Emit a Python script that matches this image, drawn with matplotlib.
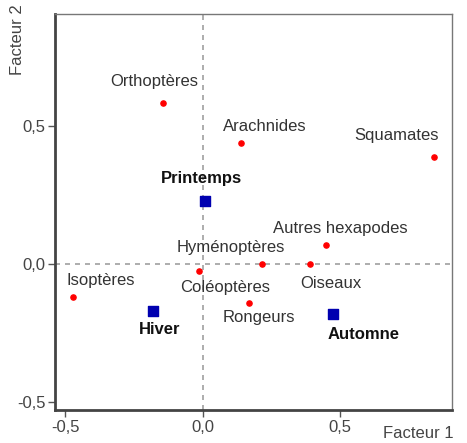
import matplotlib.pyplot as plt

# Variables (taxons) et saisons
taxa = ["Orthoptères", "Arachnides", "Squamates", "Autres hexapodes",
        "Hyménoptères", "Oiseaux", "Coléoptères", "Rongeurs", "Isoptères"]
taxa_f1 = [-0.144, 0.14, 0.842, 0.45, 0.215, 0.39, -0.013, 0.17, -0.47]
taxa_f2 = [0.583, 0.44, 0.39, 0.07, 0.0, 0.0, -0.025, -0.14, -0.12]

seasons = ["Printemps", "Hiver", "Automne"]
season_f1 = [0.01, -0.18, 0.475]
season_f2 = [0.23, -0.17, -0.18]

ticks = [-0.5, 0.0, 0.5]
tick_labels = ["-0,5", "0,0", "0,5"]

# décalages des étiquettes (points)
taxa_off = [(-6, 16), (17, 12), (-27, 15), (10, 12), (-22, 12),
            (15, -14), (19, -12), (7, -11), (20, 12)]
season_off = [(-3, 16), (5, -13), (22, -15)]

plt.rcParams["font.family"] = ["Liberation Sans", "DejaVu Sans"]
fs = 12

fig = plt.figure(figsize=(4.67, 4.43), dpi=100)
ax = fig.add_axes([0.118, 0.0745, 0.85, 0.8935])

ax.axvline(0, color="#a0a0a0", linestyle=(0, (3, 3)), linewidth=1.2, zorder=1)
ax.axhline(0, color="#a0a0a0", linestyle=(0, (3, 3)), linewidth=1.2, zorder=1)

ax.scatter(taxa_f1, taxa_f2, s=14, color="red", zorder=3)
ax.scatter(season_f1, season_f2, s=42, marker="s", color="#0000b0", zorder=3)

for name, x, y, off in zip(taxa, taxa_f1, taxa_f2, taxa_off):
    ax.annotate(name, (x, y), xytext=off, textcoords="offset points",
                ha="center", va="center", fontsize=fs, color="#333333")
for name, x, y, off in zip(seasons, season_f1, season_f2, season_off):
    ax.annotate(name, (x, y), xytext=off, textcoords="offset points",
                ha="center", va="center", fontsize=fs, color="#111111",
                fontweight="bold")

ax.set_xlim(-0.536, 0.907)
ax.set_ylim(-0.529, 0.906)
ax.set_xticks(ticks)
ax.set_xticklabels(tick_labels)
ax.set_yticks(ticks)
ax.set_yticklabels(tick_labels)
ax.tick_params(direction="out", length=5, width=1, colors="#555555",
               labelsize=fs, labelcolor="#444444", pad=2)

for side in ["top", "right"]:
    ax.spines[side].set_color("#777777")
    ax.spines[side].set_linewidth(1)
for side in ["left", "bottom"]:
    ax.spines[side].set_color("#444444")
    ax.spines[side].set_linewidth(2)

fig.text(0.038, 0.91, "Facteur 2", rotation=90, ha="center", va="center",
         fontsize=fs, color="#444444")
fig.text(0.895, 0.022, "Facteur 1", ha="center", va="center",
         fontsize=fs, color="#444444")

fig.savefig("out.png", dpi=100)
